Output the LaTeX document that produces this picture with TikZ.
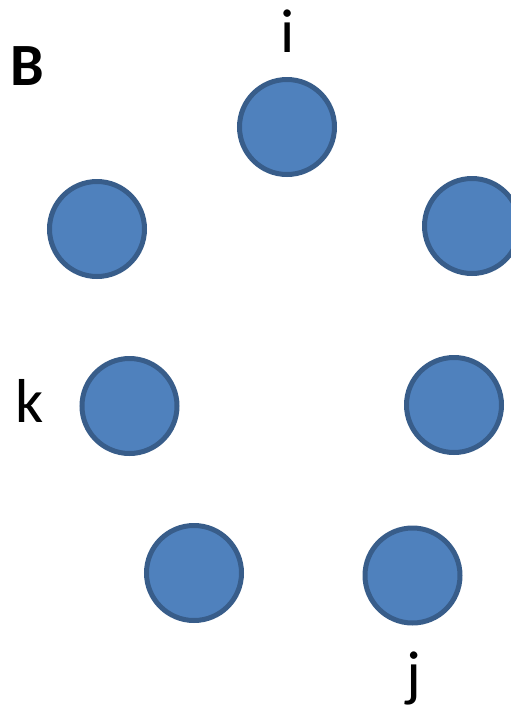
\documentclass[tikz,border=0pt]{standalone}
\usepackage{fontspec}
\setmainfont{Carlito}
\usepackage{tikz}
\usetikzlibrary{positioning}
\definecolor{cellfill}{HTML}{4F81BD}
\definecolor{celledge}{HTML}{385D8A}

\begin{document}
\begin{tikzpicture}[x=1pt, y=-1pt,
    every node/.style={font=\fontsize{62}{74}\selectfont},
    cell/.style={circle, draw=celledge, fill=cellfill, line width=5pt,
      minimum size=95pt, inner sep=0pt},
    lbl/.style={anchor=base, inner sep=0pt}]
  \useasboundingbox (0,0) rectangle (511,710);
  \node[cell] (ci) at (287,127) {};
  \node[cell] (cl) at (97,229) {};
  \node[cell] (cr) at (472,226) {};
  \node[cell] (ck) at (129.5,406) {};
  \node[cell] (cm) at (454,405) {};
  \node[cell] (cb) at (194,573) {};
  \node[cell] (cj) at (412.5,575.5) {};
  \node[lbl, font=\fontsize{60}{72}\selectfont\bfseries] (tb) at (27,85) {B};
  \node[lbl] (ti) at (288,52) {i};
  \node[lbl] (tk) at (29.5,422) {k};
  \node[lbl] (tj) at (414,694) {j};
\end{tikzpicture}
\end{document}
